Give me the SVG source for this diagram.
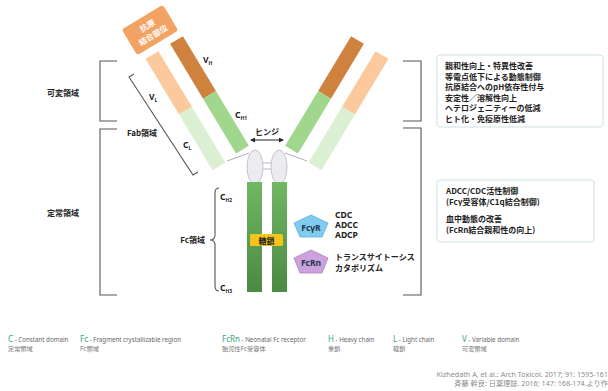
<svg xmlns="http://www.w3.org/2000/svg" width="608" height="391" viewBox="0 0 608 391">
  <defs>
    <style>
      text { font-family: "Noto Sans", "Noto Sans CJK JP", sans-serif; }
      .jp { font-family: "Noto Sans CJK JP", "Noto Sans", sans-serif; font-weight: bold; font-size: 8px; fill: #222; }
      .lbl { font-family: "Noto Sans", "Noto Sans CJK JP", sans-serif; font-weight: bold; font-size: 8.5px; fill: #222; }
      .sub { font-size: 5px; }
      .brk { fill: none; stroke: #555; stroke-width: 1.1; }
      .box { fill: #fff; stroke: #cfe0e2; stroke-width: 1; }
      .leg { font-size: 6.2px; fill: #666; }
      .legk { font-size: 8px; fill: #2fa57f; }
      .legj { font-family: "Noto Sans CJK JP", sans-serif; font-size: 6.2px; fill: #777; }
      .cite { font-size: 7.2px; fill: #8a8a8a; }
    </style>
    <linearGradient id="fcGrad" x1="0" y1="0" x2="0" y2="1">
      <stop offset="0" stop-color="#70b763"/>
      <stop offset="1" stop-color="#4a8a43"/>
    </linearGradient>
    <!-- one Fab arm: heavy chain (VH + CH1) and light chain (VL + CL) -->
    <g id="fabArm">
      <g transform="translate(176.5,40) rotate(-31)">
        <rect x="-7.5" y="0" width="15" height="64" fill="#cf813e"/>
        <rect x="-7.5" y="64" width="15" height="64" fill="#a0d78c"/>
      </g>
      <g transform="translate(152,55) rotate(-31)">
        <rect x="-7.5" y="0" width="15" height="65" fill="#fbc99b"/>
        <rect x="-7.5" y="65" width="15" height="65" fill="#dbf0d2"/>
      </g>
      <line x1="227" y1="161" x2="249" y2="153" stroke="#999" stroke-width="0.8"/>
    </g>
    <marker id="arr" viewBox="0 0 6 6" refX="5" refY="3" markerWidth="5" markerHeight="5" orient="auto-start-reverse">
      <path d="M0,0 L6,3 L0,6 z" fill="#222"/>
    </marker>
  </defs>

  <rect width="608" height="391" fill="#fff"/>

  <!-- region brackets, left -->
  <g id="leftBrackets">
    <path class="brk" d="M117,61 H100 V121 H117"/>
    <path class="brk" d="M117,129 H100 V295 H117"/>
    <text class="jp" x="63" y="96" text-anchor="middle">可変領域</text>
    <text class="jp" x="63" y="216" text-anchor="middle">定常領域</text>
  </g>

  <!-- region brackets, right -->
  <g id="rightBrackets">
    <path class="brk" d="M403,61 H421 V121 H403"/>
    <path class="brk" d="M403,128 H421 V295 H403"/>
  </g>

  <!-- Fab arms -->
  <g id="fabLeft">
    <use href="#fabArm"/>
  </g>
  <g id="fabRight">
    <use href="#fabArm" transform="translate(534,0) scale(-1,1)"/>
  </g>

  <!-- antigen binding site -->
  <g id="antigenSite" transform="translate(150,30) rotate(-31)">
    <rect x="-24" y="-15" width="48" height="30" rx="3" fill="#f2a263"/>
    <text class="jp" x="0" y="-2" text-anchor="middle" style="fill:#fff">抗原</text>
    <text class="jp" x="0" y="9" text-anchor="middle" style="fill:#fff">結合部位</text>
  </g>

  <!-- arm labels -->
  <g id="armLabels">
    <text class="lbl" x="203" y="63">V<tspan class="sub" dy="2">H</tspan></text>
    <text class="lbl" x="149" y="100">V<tspan class="sub" dy="2">L</tspan></text>
    <text class="lbl" x="235" y="118">C<tspan class="sub" dy="2">H1</tspan></text>
    <text class="lbl" x="183" y="148">C<tspan class="sub" dy="2">L</tspan></text>
  </g>

  <!-- Fab region bracket -->
  <g id="fabBracket">
    <path class="brk" d="M134,74 L129,77 L193,175 L198,172"/>
    <text class="jp" x="142" y="136" text-anchor="middle">Fab領域</text>
  </g>

  <!-- hinge -->
  <g id="hinge">
    <ellipse cx="255" cy="167" rx="8" ry="17" fill="#ececf0" stroke="#b8b8c0" stroke-width="0.8"/>
    <ellipse cx="279" cy="167" rx="8" ry="17" fill="#ececf0" stroke="#b8b8c0" stroke-width="0.8"/>
    <line x1="263" y1="163" x2="271" y2="163" stroke="#aaa" stroke-width="0.8"/>
    <line x1="263" y1="169" x2="271" y2="169" stroke="#aaa" stroke-width="0.8"/>
    <text class="jp" x="267" y="135" text-anchor="middle">ヒンジ</text>
  </g>

  <!-- connectors -->
  <g id="connectors">
    <line x1="251" y1="140" x2="283" y2="140" stroke="#222" stroke-width="1" marker-start="url(#arr)" marker-end="url(#arr)"/>
  </g>

  <!-- Fc region -->
  <g id="fc">
    <rect x="247" y="182" width="15" height="110" fill="url(#fcGrad)"/>
    <rect x="272" y="182" width="15" height="110" fill="url(#fcGrad)"/>
    <rect x="250" y="234" width="33" height="12" rx="1.5" fill="#f6c51c"/>
    <text class="jp" x="266.5" y="243.5" text-anchor="middle">糖鎖</text>
    <text class="lbl" x="220" y="200">C<tspan class="sub" dy="2">H2</tspan></text>
    <text class="lbl" x="220" y="291">C<tspan class="sub" dy="2">H3</tspan></text>
    <path class="brk" d="M219,188 Q215,188 215,193 V235 Q215,240 210,240 Q215,240 215,245 V286 Q215,291 219,291"/>
    <text class="jp" x="205" y="243" text-anchor="end">Fc領域</text>
  </g>

  <!-- Fc receptors -->
  <g id="fcgr">
    <polygon points="311,215 328,223 322,237 300,237 294,223" fill="#80cbee" stroke="#5aaedb" stroke-width="0.8"/>
    <text class="lbl" x="311" y="231" text-anchor="middle" style="fill:#203650">FcγR</text>
    <text class="lbl" x="335" y="218">CDC</text>
    <text class="lbl" x="335" y="228">ADCC</text>
    <text class="lbl" x="335" y="238">ADCP</text>
  </g>
  <g id="fcrn">
    <polygon points="311,250 328,258 322,273 300,273 294,258" fill="#cda2dc" stroke="#ad80c0" stroke-width="0.8"/>
    <text class="lbl" x="311" y="266" text-anchor="middle" style="fill:#203650">FcRn</text>
    <text class="jp" x="335" y="260">トランスサイトーシス</text>
    <text class="jp" x="335" y="271">カタボリズム</text>
  </g>

  <!-- engineering goals -->
  <g id="varBox">
    <rect class="box" x="437" y="55" width="166" height="72" rx="3"/>
    <text class="jp" x="445" y="69">親和性向上・特異性改善</text>
    <text class="jp" x="445" y="79.6">等電点低下による動態制御</text>
    <text class="jp" x="445" y="90.2">抗原結合へのpH依存性付与</text>
    <text class="jp" x="445" y="100.8">安定性／溶解性向上</text>
    <text class="jp" x="445" y="111.4">ヘテロジェニティーの低減</text>
    <text class="jp" x="445" y="122">ヒト化・免疫原性低減</text>
  </g>
  <g id="constBox">
    <rect class="box" x="437" y="180" width="157" height="62" rx="3"/>
    <text class="jp" x="446" y="194">ADCC/CDC活性制御</text>
    <text class="jp" x="446" y="204.5">(Fcγ受容体/C1q結合制御)</text>
    <text class="jp" x="446" y="222">血中動態の改善</text>
    <text class="jp" x="446" y="232.5">(FcRn結合親和性の向上)</text>
  </g>

  <!-- legend -->
  <g id="legend">
    <text x="8" y="342"><tspan class="legk">C</tspan><tspan class="leg"> - Constant domain</tspan></text>
    <text class="legj" x="8" y="351">定常領域</text>
    <text x="80" y="342"><tspan class="legk">Fc</tspan><tspan class="leg"> - Fragment crystallizable region</tspan></text>
    <text class="legj" x="80" y="351">Fc領域</text>
    <text x="222" y="342"><tspan class="legk">FcRn</tspan><tspan class="leg"> - Neonatal Fc receptor</tspan></text>
    <text class="legj" x="222" y="351">胎児性Fc受容体</text>
    <text x="328" y="342"><tspan class="legk">H</tspan><tspan class="leg"> - Heavy chain</tspan></text>
    <text class="legj" x="328" y="351">重鎖</text>
    <text x="393" y="342"><tspan class="legk">L</tspan><tspan class="leg"> - Light chain</tspan></text>
    <text class="legj" x="393" y="351">軽鎖</text>
    <text x="462" y="342"><tspan class="legk">V</tspan><tspan class="leg"> - Variable domain</tspan></text>
    <text class="legj" x="462" y="351">可変領域</text>
  </g>

  <!-- source -->
  <g id="source">
    <text class="cite" x="608" y="377" text-anchor="end">Kizhedath A, et al.: Arch Toxicol. 2017; 91: 1595-161</text>
    <text class="cite" x="608" y="386" text-anchor="end">斉藤 幹良: 日薬理誌. 2016; 147: 168-174.より作</text>
  </g>
</svg>
